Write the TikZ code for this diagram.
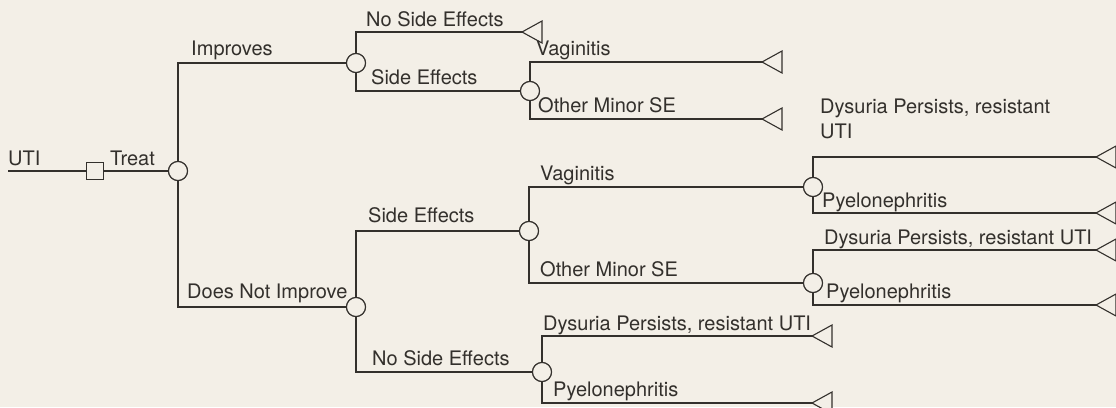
\documentclass[tikz,border=0pt]{standalone}
\usepackage{fontspec}
\setmainfont{TeX Gyre Heros}
\definecolor{bg}{HTML}{F3EFE7}
\definecolor{ink}{HTML}{33302C}
\tikzset{
  edge/.style={draw=ink, line width=1.1pt},
  chance/.style={circle, draw=ink, fill=bg, line width=1.1pt, minimum size=19pt, inner sep=0pt},
  decision/.style={rectangle, draw=ink, fill=bg, line width=1.1pt, minimum size=17pt, inner sep=0pt},
  lbl/.style={anchor=base west, inner sep=0pt, text=ink, font=\fontsize{20}{24}\selectfont},
  term/.pic={\draw[ink, line width=1.1pt, fill=bg] (0,0) -- (20,11) -- (20,-11) -- cycle;}
}
\begin{document}
\begin{tikzpicture}[x=1pt, y=-1pt]
\useasboundingbox (0,0) rectangle (1116,407);
\fill[bg] (0,0) rectangle (1116,407);

% nodes
\coordinate (root) at (8,171);
\node[decision] (sq) at (95,171) {};
\node[chance] (c1) at (178,171) {};
\node[chance] (c2) at (356,63) {};
\node[chance] (c4) at (356,307) {};
\node[chance] (c3) at (530,91) {};
\node[chance] (c5) at (529,231) {};
\node[chance] (c8) at (542,372) {};
\node[chance] (c6) at (813,187) {};
\node[chance] (c7) at (813,283) {};
\coordinate (t1) at (522,32);
\coordinate (t2) at (762,62);
\coordinate (t3) at (762,119);
\coordinate (t4) at (1096,157);
\coordinate (t5) at (1096,213);
\coordinate (t6) at (1096,250);
\coordinate (t7) at (1096,305);
\coordinate (t8) at (812,336);
\coordinate (t9) at (812,403);

% connectors
\draw[edge] (root) -- (sq);
\draw[edge] (sq) -- (c1);
\draw[edge] (c1) |- (c2);
\draw[edge] (c1) |- (c4);
\draw[edge] (c2) |- (t1);
\draw[edge] (c2) |- (c3);
\draw[edge] (c3) |- (t2);
\draw[edge] (c3) |- (t3);
\draw[edge] (c4) |- (c5);
\draw[edge] (c4) |- (c8);
\draw[edge] (c5) |- (c6);
\draw[edge] (c5) |- (c7);
\draw[edge] (c6) |- (t4);
\draw[edge] (c6) |- (t5);
\draw[edge] (c7) |- (t6);
\draw[edge] (c7) |- (t7);
\draw[edge] (c8) |- (t8);
\draw[edge] (c8) |- (t9);

% redraw nodes on top
\node[decision] at (sq) {};
\foreach \c in {c1,c2,c3,c4,c5,c6,c7,c8} \node[chance] at (\c) {};

% terminals
\foreach \t in {t1,t2,t3,t4,t5,t6,t7,t8,t9} \pic at (\t) {term};

% labels
\node[lbl] (l0) at (8,165) {UTI};
\node[lbl] (l1) at (110,165) {Treat};
\node[lbl] (l2) at (191,55) {Improves};
\node[lbl] (l3) at (187,298) {Does Not Improve};
\node[lbl] (l4) at (366,26) {No Side Effects};
\node[lbl] (l5) at (371,84) {Side Effects};
\node[lbl] (l6) at (536,55) {Vaginitis};
\node[lbl] (l7) at (538,112) {Other Minor SE};
\node[lbl] (l8) at (368,222) {Side Effects};
\node[lbl] (l9) at (372,365) {No Side Effects};
\node[lbl] (l10) at (540,180) {Vaginitis};
\node[lbl] (l11) at (540,276) {Other Minor SE};
\node[lbl] (l12) at (820,113) {Dysuria Persists, resistant};
\node[lbl] (l12b) at (820,138) {UTI};
\node[lbl] (l13) at (822,207) {Pyelonephritis};
\node[lbl] (l14) at (824,244) {Dysuria Persists, resistant UTI};
\node[lbl] (l15) at (826,298) {Pyelonephritis};
\node[lbl] (l16) at (543,330) {Dysuria Persists, resistant UTI};
\node[lbl] (l17) at (553,396) {Pyelonephritis};
\end{tikzpicture}
\end{document}
